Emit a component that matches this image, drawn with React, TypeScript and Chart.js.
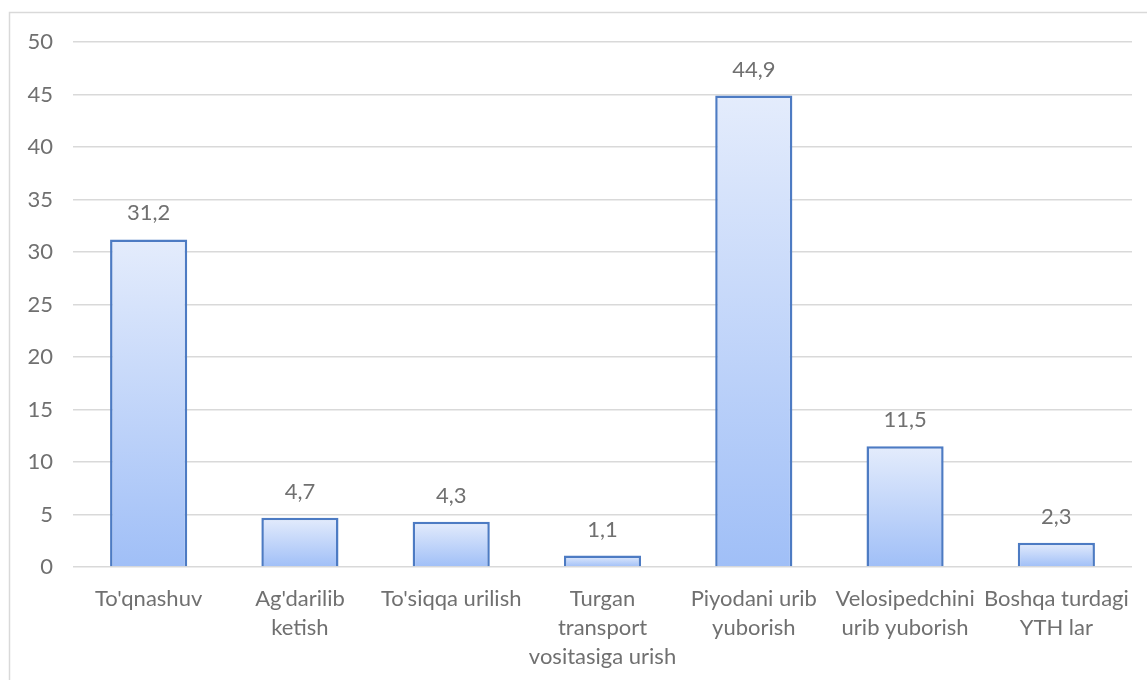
import React, { useEffect, useRef } from "react";
import { Chart, registerables } from "chart.js";

Chart.register(...registerables);

const categories: string[][] = [
  ["To'qnashuv"],
  ["Ag'darilib", "ketish"],
  ["To'siqqa urilish"],
  ["Turgan", "transport", "vositasiga urish"],
  ["Piyodani urib", "yuborish"],
  ["Velosipedchini", "urib yuborish"],
  ["Boshqa turdagi", "YTH lar"],
];
const values: number[] = [31.2, 4.7, 4.3, 1.1, 44.9, 11.5, 2.3];
const yMin = 0;
const yMax = 50;
const yStep = 5;

const FONT = "Lato";
const TEXT_COLOR = "#707070";
const GRID_COLOR = "#d9d9d9";

const fmt = (v: number) => v.toFixed(1).replace(".", ",");

const frameAndLabels = {
  id: "frameAndLabels",
  beforeDraw(chart: any) {
    const ctx = chart.ctx;
    ctx.save();
    ctx.fillStyle = "#ffffff";
    ctx.fillRect(0, 0, chart.width, chart.height);
    ctx.strokeStyle = GRID_COLOR;
    ctx.lineWidth = 1.5;
    ctx.strokeRect(9.5, 12.5, chart.width + 20, chart.height + 20);
    ctx.restore();
  },
  afterDatasetsDraw(chart: any) {
    const ctx = chart.ctx;
    const meta = chart.getDatasetMeta(0);
    ctx.save();
    ctx.font = `22px ${FONT}`;
    ctx.fillStyle = TEXT_COLOR;
    ctx.textAlign = "center";
    ctx.textBaseline = "middle";
    meta.data.forEach((bar: any, i: number) => {
      ctx.fillText(fmt(values[i]), bar.x, bar.y - 26);
    });
    ctx.restore();
  },
};

export default function App() {
  const ref = useRef<HTMLCanvasElement | null>(null);
  useEffect(() => {
    if (!ref.current) return;
    const chart = new Chart(ref.current, {
      type: "bar",
      data: {
        labels: categories,
        datasets: [
          {
            data: values,
            borderColor: "#4d7bc3",
            borderWidth: 2.5,
            borderSkipped: "bottom",
            categoryPercentage: 1,
            barPercentage: 0.51,
            backgroundColor: (c: any) => {
              const chart = c.chart;
              const ys = chart.scales?.y;
              if (!ys || !chart.chartArea || c.dataIndex == null) return "#c4d8fa";
              const top = ys.getPixelForValue(values[c.dataIndex]);
              const bottom = ys.getPixelForValue(0);
              if (!isFinite(top) || !isFinite(bottom) || top === bottom) return "#c4d8fa";
              const g = chart.ctx.createLinearGradient(0, top, 0, bottom);
              g.addColorStop(0, "#e4ecfc");
              g.addColorStop(1, "#a0bff7");
              return g;
            },
          },
        ],
      },
      options: {
        animation: false,
        responsive: false,
        devicePixelRatio: 1,
        layout: { padding: { left: 0, top: 42, right: 15, bottom: 0 } },
        plugins: {
          legend: { display: false },
          tooltip: { enabled: false },
          title: { display: false },
        },
        scales: {
          x: {
            grid: { display: false, drawTicks: false },
            border: { display: false },
            ticks: {
              color: TEXT_COLOR,
              font: { family: FONT, size: 22, lineHeight: 1.32 },
              padding: 17,
              maxRotation: 0,
              minRotation: 0,
              autoSkip: false,
            },
            afterFit: (s: any) => {
              s.height = 113;
              s.paddingLeft = 0;
              s.paddingRight = 0;
            },
          },
          y: {
            min: yMin,
            max: yMax,
            grid: { color: GRID_COLOR, lineWidth: 1.5, drawTicks: false },
            border: { display: false },
            ticks: {
              stepSize: yStep,
              color: TEXT_COLOR,
              font: { family: FONT, size: 22 },
              padding: 20,
            },
            afterFit: (s: any) => {
              s.width = 73;
              s.paddingTop = 0;
              s.paddingBottom = 0;
            },
          },
        },
      },
      plugins: [frameAndLabels],
    });
    return () => chart.destroy();
  }, []);
  return (
    <div style={{ position: "absolute", left: 0, top: 0, width: 1147, height: 680, overflow: "hidden" }}>
      <canvas ref={ref} width={1147} height={680} style={{ display: "block" }} />
    </div>
  );
}
